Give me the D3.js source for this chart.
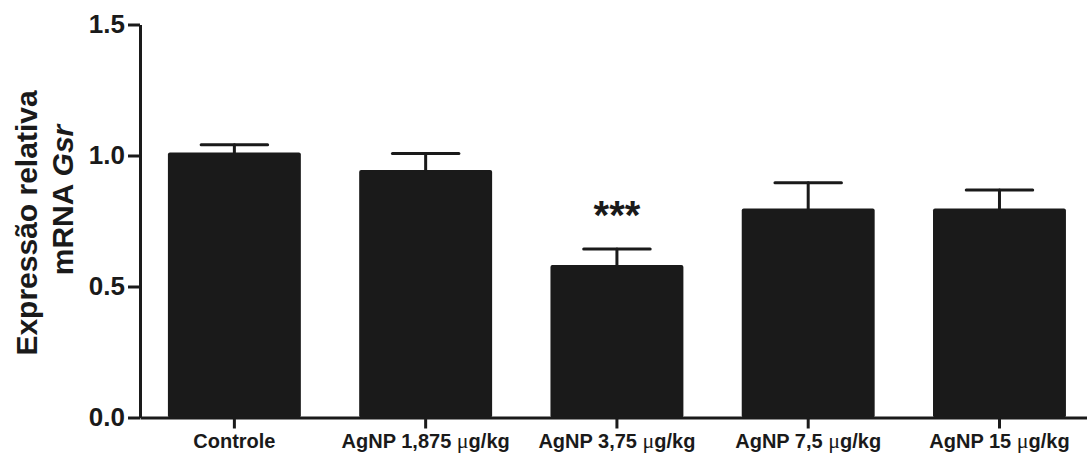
<!DOCTYPE html>
<html>
<head>
<meta charset="utf-8">
<script src="https://cdn.jsdelivr.net/npm/d3@7"></script>
<style>
  body { margin: 0; background: #fff; }
  svg { display: block; font-family: 'Liberation Sans', Arial, sans-serif; }
</style>
</head>
<body>
<svg id="chart" width="1087" height="454"></svg>
<script>
// values
var groups = ['Controle', 'AgNP 1,875', 'AgNP 3,75', 'AgNP 7,5', 'AgNP 15']
var means = [1.011, 0.945, 0.582, 0.798, 0.798]
var sems = [0.030, 0.063, 0.061, 0.098, 0.070]
var stars = ['', '', '***', '', '']
var yTicks = [0.0, 0.5, 1.0, 1.5]
var unit = 'g/kg'

var ink = '#1a1a1a'
var svg = d3.select('#chart')

var x = d3.scaleBand()
  .domain(groups)
  .range([140, 1087])
  .paddingInner(0.305)
  .paddingOuter(0.128)
  .align(0.57)

var y = d3.scaleLinear()
  .domain([0, 1.5])
  .range([417.5, 24.5])

// bars
svg.append('g')
  .selectAll('rect')
  .data(groups).enter()
  .append('rect')
  .attr('x', function (d) { return x(d) })
  .attr('y', function (d, i) { return y(means[i]) })
  .attr('width', x.bandwidth())
  .attr('height', function (d, i) { return y(0) - y(means[i]) })
  .attr('rx', 2)
  .attr('fill', ink)

// error bars (upper only)
var err = svg.append('g')
  .attr('stroke', ink)
  .attr('stroke-width', 3)
  .attr('stroke-linecap', 'round')

err.selectAll('.stem')
  .data(groups).enter()
  .append('line')
  .attr('class', 'stem')
  .attr('x1', function (d) { return x(d) + x.bandwidth() / 2 })
  .attr('x2', function (d) { return x(d) + x.bandwidth() / 2 })
  .attr('y1', function (d, i) { return y(means[i]) })
  .attr('y2', function (d, i) { return y(means[i] + sems[i]) })

err.selectAll('.cap')
  .data(groups).enter()
  .append('line')
  .attr('class', 'cap')
  .attr('x1', function (d) { return x(d) + x.bandwidth() / 4 })
  .attr('x2', function (d) { return x(d) + x.bandwidth() * 3 / 4 })
  .attr('y1', function (d, i) { return y(means[i] + sems[i]) })
  .attr('y2', function (d, i) { return y(means[i] + sems[i]) })

// significance marks
svg.append('g')
  .selectAll('text')
  .data(groups).enter()
  .append('text')
  .attr('x', function (d) { return x(d) + x.bandwidth() / 2 })
  .attr('y', function (d, i) { return y(means[i] + sems[i]) - 20 })
  .attr('text-anchor', 'middle')
  .attr('font-size', 40)
  .attr('font-weight', 'bold')
  .attr('fill', ink)
  .text(function (d, i) { return stars[i] })

// y axis
var yAxis = svg.append('g')
  .attr('transform', 'translate(140,0)')
  .call(d3.axisLeft(y).tickValues(yTicks).tickFormat(d3.format('.1f')).tickSize(12).tickSizeOuter(0).tickPadding(3))
yAxis.select('.domain').attr('stroke', ink).attr('stroke-width', 3)
yAxis.selectAll('.tick line').attr('stroke', ink).attr('stroke-width', 3)
yAxis.selectAll('.tick text')
  .attr('font-size', 26)
  .attr('font-weight', 'bold')
  .attr('fill', ink)
  .attr('font-family', "'Liberation Sans', Arial, sans-serif")

// x axis
var xAxis = svg.append('g')
  .attr('transform', 'translate(0,' + y(0) + ')')
  .call(d3.axisBottom(x).tickSize(11).tickSizeOuter(0).tickPadding(5))
xAxis.select('.domain').attr('stroke', ink).attr('stroke-width', 3)
xAxis.selectAll('.tick line').attr('stroke', ink).attr('stroke-width', 3)
xAxis.selectAll('.tick text')
  .attr('font-size', 20)
  .attr('font-weight', 'bold')
  .attr('fill', ink)
  .attr('font-family', "'Liberation Sans', Arial, sans-serif")
  .each(function (d) {
    var t = d3.select(this)
    t.text(null)
    t.append('tspan').text(d)
    if (d === 'Controle') return
    t.append('tspan').text(' ')
    t.append('tspan')
      .attr('font-family', "'Liberation Serif', 'Times New Roman', serif")
      .attr('font-weight', 'normal')
      .attr('font-size', 22)
      .text('\u03bc')
    t.append('tspan').text(unit)
  })

// y title, two lines
var title = svg.append('g')
  .attr('font-size', 30)
  .attr('font-weight', 'bold')
  .attr('fill', ink)

title.append('text')
  .attr('transform', 'translate(37,223) rotate(-90)')
  .attr('text-anchor', 'middle')
  .text('Expressão relativa')

var t2 = title.append('text')
  .attr('transform', 'translate(73,200) rotate(-90)')
  .attr('text-anchor', 'middle')
t2.append('tspan').text('mRNA ')
t2.append('tspan').attr('font-style', 'italic').text('Gsr')
</script>
</body>
</html>
